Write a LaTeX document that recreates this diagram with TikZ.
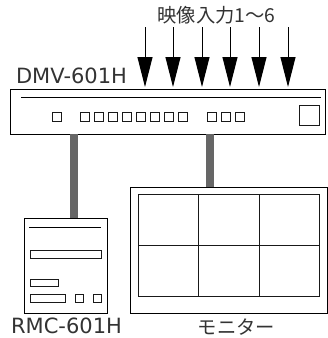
\documentclass[tikz,border=0pt]{standalone}
\usepackage{fontspec}
\setmainfont{DejaVu Sans}
\newfontfamily\cjk{Noto Sans CJK JP}
\usetikzlibrary{arrows.meta}
\definecolor{cablegray}{HTML}{666666}
\begin{document}
\begin{tikzpicture}[x=1pt,y=-1pt]

    % styly
    \tikzset{
        device/.style={draw=black, line width=0.9pt, inner sep=0pt, outer sep=0pt},
        label/.style={inner sep=0pt, anchor=base, font=\fontsize{21}{21}\selectfont, text=black!80},
        jplabel/.style={label, font=\cjk\fontsize{19.3}{19.3}\selectfont},
        inarrow/.style={black, line width=1pt, -{Triangle[length=30pt,width=15pt]}, shorten >=2pt},
        cable/.style={cablegray, line width=8pt},
        part/.style={black!90, line width=0.8pt}
    }

    % pomocné makro pro tlačítko: levý horní roh, šířka, výška
    \newcommand{\panelbox}[4]{%
        \draw[part] (#1,#2) rectangle ++(#3,#4);
    }

    \useasboundingbox (0,0) rectangle (328,338);

    % přístroje
    \node[device, minimum width=315pt, minimum height=45pt] (dmv) at (167.5,111.5) {};
    \node[device, minimum width=83pt, minimum height=95pt] (rmc) at (65.5,265.5) {};
    \node[device, minimum width=197pt, minimum height=126pt] (mon) at (228.5,250) {};

    % kabely
    \coordinate (rmcin) at (74,218);
    \coordinate (monin) at (210,187);
    \draw[cable] (dmv.south -| rmcin) -- (rmcin);
    \draw[cable] (dmv.south -| monin) -- (monin);

    % vstupní šipky
    \foreach \x in {145,173,202,230,259,288} {
        \coordinate (in\x) at (\x,27);
        \draw[inarrow] (in\x) -- (in\x |- dmv.north);
    }

    % --- DMV-601H ---
    \draw[black, line width=0.9pt] (21,97) -- (321,97);
    \panelbox{52}{112}{9}{9}
    \foreach \x in {80,94,108,122,136,150,164,178} {
        \panelbox{\x}{112}{9}{9}
    }
    \foreach \x in {207,221,235} {
        \panelbox{\x}{112}{9}{9}
    }
    \panelbox{299}{105}{20}{20}

    % --- RMC-601H ---
    \draw[black, line width=0.9pt] (29,227) -- (101,227);
    \panelbox{30}{250}{71}{8}
    \panelbox{30}{279}{28}{7}
    \panelbox{30}{294}{35}{8}
    \panelbox{75}{294}{8}{8}
    \panelbox{93}{294}{8}{8}

    % --- monitor ---
    \draw[part] (138,194) rectangle (319,296);
    \draw[part] (198,194) -- (198,296);
    \draw[part] (259,194) -- (259,296);
    \draw[part] (138,245) -- (319,245);

    % popisky
    \node[jplabel] (inlabel) at (216.5,22) {映像入力1〜6};
    \node[label] (dmvlabel) at (71.5,83) {DMV-601H};
    \node[label] (rmclabel) at (66.5,333) {RMC-601H};
    \node[jplabel] (monlabel) at (236.5,334) {モニター};

\end{tikzpicture}
\end{document}
